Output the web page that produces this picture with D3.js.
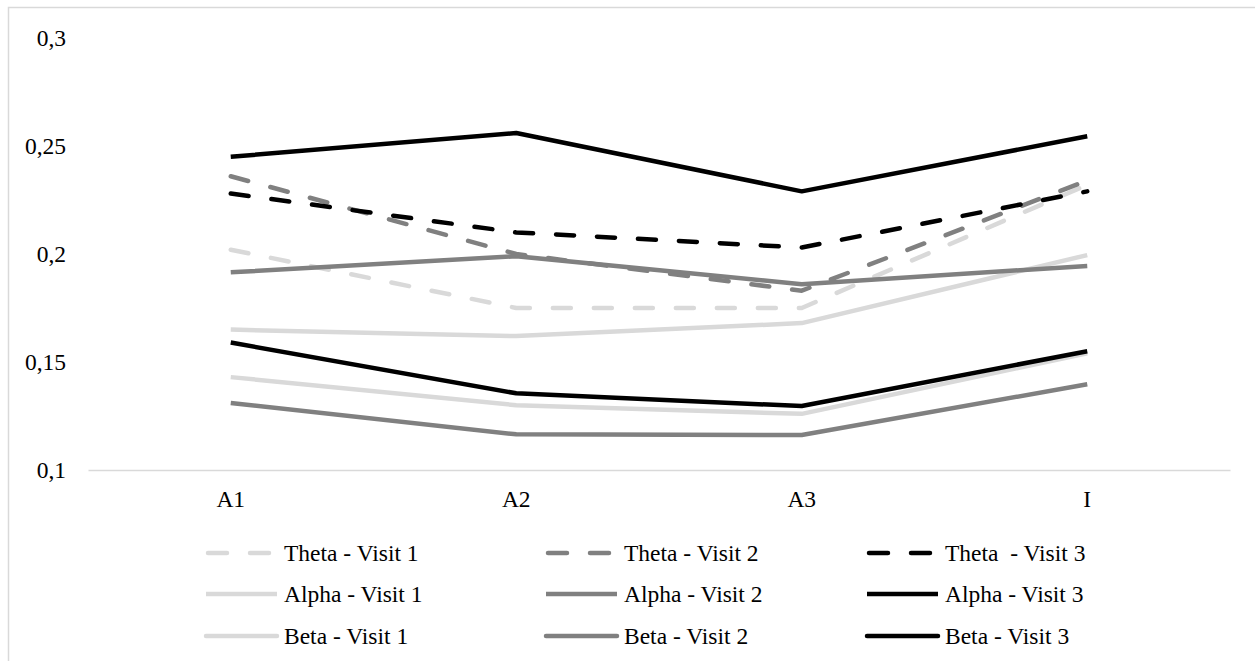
<!DOCTYPE html>
<html>
<head>
<meta charset="utf-8">
<script src="https://cdn.jsdelivr.net/npm/d3@7"></script>
<style>
  body { margin: 0; background: #fff; }
  svg { display: block; }
  svg text { font-family: "Liberation Serif", "Tinos", "Times New Roman", Times, "DejaVu Serif", serif; fill: #000; }
</style>
</head>
<body>
<svg width="1255" height="661"></svg>
<script>
// categories and tick values
const categories = ["A1", "A2", "A3", "I"];
const yTicks = [0.1, 0.15, 0.2, 0.25, 0.3];

// series values
const thetaV1 = [0.202, 0.175, 0.175, 0.232];
const thetaV2 = [0.236, 0.200, 0.183, 0.234];
const thetaV3 = [0.228, 0.210, 0.203, 0.229];
const alphaV1 = [0.165, 0.162, 0.168, 0.1995];
const alphaV2 = [0.1915, 0.199, 0.186, 0.1945];
const alphaV3 = [0.245, 0.256, 0.229, 0.2545];
const betaV1  = [0.143, 0.130, 0.126, 0.154];
const betaV2  = [0.131, 0.1165, 0.1162, 0.1397];
const betaV3  = [0.159, 0.1355, 0.1296, 0.155];

const seriesNames = [
  "Theta - Visit 1", "Theta - Visit 2", "Theta  - Visit 3",
  "Alpha - Visit 1", "Alpha - Visit 2", "Alpha - Visit 3",
  "Beta - Visit 1", "Beta - Visit 2", "Beta - Visit 3"
];
const seriesValues = [thetaV1, thetaV2, thetaV3, alphaV1, alphaV2, alphaV3, betaV1, betaV2, betaV3];
const visitColors = ["#d9d9d9", "#808080", "#000000"];

const series = seriesNames.map((name, i) => ({
  name: name,
  values: seriesValues[i],
  color: visitColors[i % 3],
  dashed: i < 3
}));

const svg = d3.select("svg");
const fontSize = 23.5;

// outer chart border
svg.append("rect")
  .attr("x", 8.5).attr("y", 7.5)
  .attr("width", 1300).attr("height", 700)
  .attr("fill", "none").attr("stroke", "#d9d9d9").attr("stroke-width", 1.5);

const x = d3.scaleBand().domain(categories).range([88, 1230]);
const y = d3.scaleLinear().domain([0.1, 0.3]).range([470, 38]);

const fmt = d => String(+d.toFixed(2)).replace(".", ",");

// y tick labels
const yAxis = svg.append("g")
  .attr("transform", "translate(88,0)")
  .call(d3.axisLeft(y).tickValues(yTicks).tickFormat(fmt).tickSize(0).tickPadding(22));
yAxis.select(".domain").remove();
yAxis.attr("font-family", null).attr("font-size", null);
yAxis.selectAll("text").attr("font-size", fontSize).attr("fill", "#000");

// x axis
const xAxis = svg.append("g")
  .attr("transform", "translate(0,470)")
  .call(d3.axisBottom(x).tickSize(0).tickPadding(20));
xAxis.attr("font-family", null).attr("font-size", null);
xAxis.select(".domain").attr("stroke", "#d9d9d9").attr("stroke-width", 1.5);
xAxis.selectAll("text").attr("font-size", fontSize).attr("fill", "#000");

const line = d3.line()
  .x((d, i) => x(categories[i]) + x.bandwidth() / 2)
  .y(d => y(d));

// draw order: visit 1 first, so darker lines lie on top
const drawOrder = [6, 3, 0, 7, 4, 1, 8, 5, 2];
svg.append("g").selectAll("path")
  .data(drawOrder.map(i => series[i]))
  .join("path")
  .attr("d", d => line(d.values))
  .attr("fill", "none")
  .attr("stroke", d => d.color)
  .attr("stroke-width", 4.5)
  .attr("stroke-linecap", d => d.dashed ? "round" : "butt")
  .attr("stroke-linejoin", "round")
  .attr("stroke-dasharray", d => d.dashed ? "18,23" : null);

// legend
const colX = [206, 546, 867];
const rowY = [553, 594, 636];
const leg = svg.append("g").selectAll("g")
  .data(series)
  .join("g")
  .attr("transform", (d, i) => `translate(${colX[i % 3]},${rowY[Math.floor(i / 3)]})`);

leg.append("line")
  .attr("x1", d => d.dashed ? 2 : 0).attr("x2", d => d.dashed ? 69 : 71)
  .attr("y1", 0).attr("y2", 0)
  .attr("stroke", d => d.color)
  .attr("stroke-width", 4.5)
  .attr("stroke-linecap", (d, i) => (d.dashed || i >= 6) ? "round" : "butt")
  .attr("stroke-dasharray", d => d.dashed ? "19,23" : null);

leg.append("text")
  .attr("x", 78)
  .attr("dy", "0.35em")
  .attr("font-size", fontSize)
  .style("white-space", "pre")
  .text(d => d.name);
</script>
</body>
</html>
